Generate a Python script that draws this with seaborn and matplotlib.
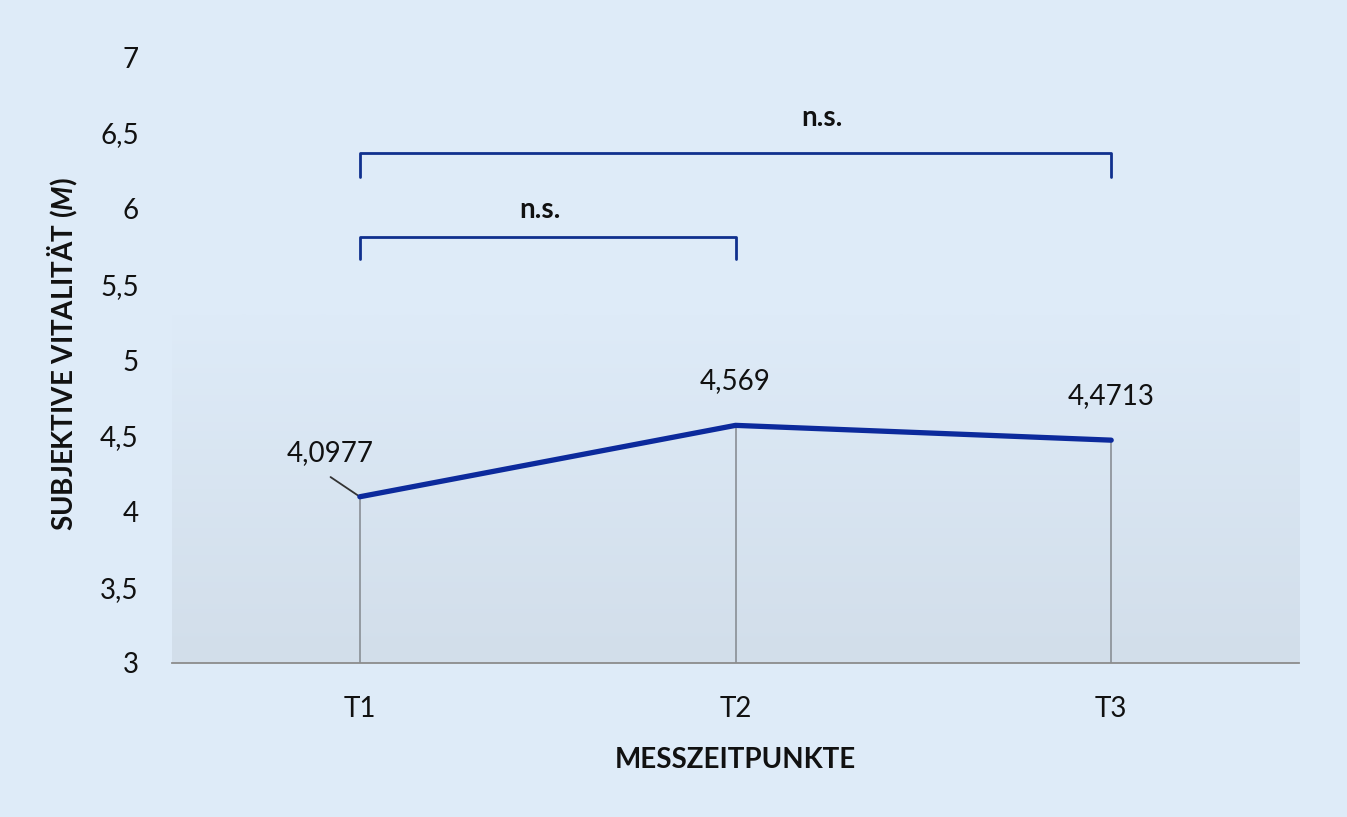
import matplotlib
matplotlib.use('Agg')
import matplotlib.pyplot as plt
import seaborn as sns
import numpy as np
import pandas as pd

# values
zeitpunkte = ['T1', 'T2', 'T3']
mittelwerte = [4.0977, 4.569, 4.4713]
wert_labels = ['4,0977', '4,569', '4,4713']
y_ticks = [3, 3.5, 4, 4.5, 5, 5.5, 6, 6.5, 7]
y_ticklabels = ['3', '3,5', '4', '4,5', '5', '5,5', '6', '6,5', '7']
# brackets: (start index, end index, height, leg bottom, text, text x, text y)
brackets = [(0, 2, 6.37, 6.21, 'n.s.', 1.23, 6.6),
            (0, 1, 5.81, 5.67, 'n.s.', 0.48, 5.99)]

bg = '#deebf8'
linie = '#0c2a9c'
klammer = '#10308e'

sns.set_theme(style='white')
plt.rcParams['font.family'] = ['Lato', 'DejaVu Sans']
plt.rcParams['mathtext.fontset'] = 'custom'
plt.rcParams['mathtext.it'] = 'Lato:italic:bold'
plt.rcParams['mathtext.rm'] = 'Lato:bold'

fig = plt.figure(figsize=(13.47, 8.17), dpi=100, facecolor=bg)
ax = fig.add_axes([0.1277, 0.1885, 0.8367, 0.7415])
ax.set_facecolor(bg)

# soft gradient band in the lower part of the plot area
grad = np.linspace(0, 1, 256).reshape(-1, 1)
cmap = matplotlib.colors.LinearSegmentedColormap.from_list('band', ['#d2deea', bg])
ax.imshow(grad, extent=(-0.5, 2.5, 3, 5.3), origin='lower', aspect='auto',
          cmap=cmap, zorder=0)

df = pd.DataFrame({'Zeitpunkt': range(len(zeitpunkte)), 'M': mittelwerte})

# drop lines
ax.vlines(df['Zeitpunkt'], 3, df['M'], color='#8f959c', lw=1.3, zorder=1)

sns.lineplot(data=df, x='Zeitpunkt', y='M', color=linie, lw=3.8, ax=ax,
             zorder=3, solid_capstyle='round')

# data labels (first one with a leader line)
ax.plot([-0.078, 0], [mittelwerte[0] + 0.13, mittelwerte[0]], color='#333333', lw=1.3, zorder=2)
ax.text(-0.08, mittelwerte[0] + 0.29, wert_labels[0], ha='center', va='center',
        fontsize=20, color='#111111')
for i in [1, 2]:
    ax.text(i, mittelwerte[i] + 0.29, wert_labels[i], ha='center', va='center',
            fontsize=20, color='#111111')

# significance brackets
for a, b, h, low, txt, tx, ty in brackets:
    ax.plot([a, a, b, b], [low, h, h, low], color=klammer, lw=2.0,
            solid_joinstyle='round', solid_capstyle='round', zorder=4)
    ax.text(tx, ty, txt, ha='center', va='center', fontsize=20,
            fontweight='bold', color='#111111')

ax.set_xlim(-0.5, 2.5)
ax.set_ylim(3, 7)
ax.set_xticks(range(len(zeitpunkte)))
ax.set_xticklabels(zeitpunkte)
ax.set_yticks(y_ticks)
ax.set_yticklabels(y_ticklabels)
ax.tick_params(axis='y', length=0, pad=24, labelsize=20, labelcolor='#111111')
ax.tick_params(axis='x', length=4, direction='in', color='#8c8c8c', pad=24,
               labelsize=20, labelcolor='#111111')
ax.grid(False)
for s in ['top', 'right', 'left']:
    ax.spines[s].set_visible(False)
ax.spines['bottom'].set_color('#8c8c8c')
ax.spines['bottom'].set_linewidth(1.3)
ax.spines['bottom'].set_zorder(2)

ax.set_xlabel('MESSZEITPUNKTE', fontsize=20, fontweight='bold', color='#111111', labelpad=18)
ax.set_ylabel('SUBJEKTIVE VITALITÄT ($\\mathit{M}$)', fontsize=20, fontweight='bold',
              color='#111111')
ax.yaxis.set_label_coords(-0.082, 0.51)

fig.savefig('out.png', dpi=100, facecolor=bg)
